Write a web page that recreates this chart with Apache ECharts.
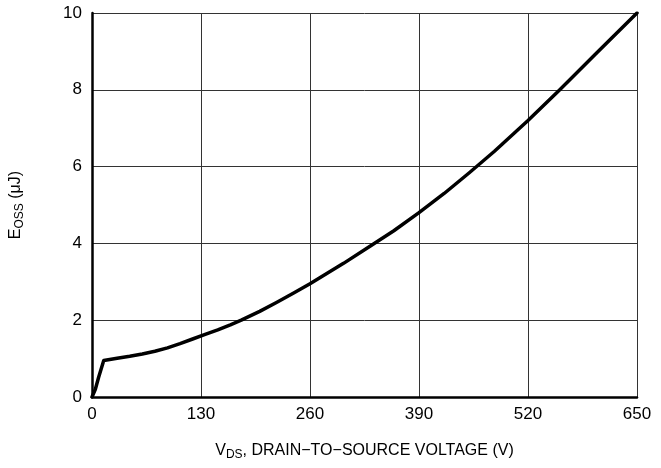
<!DOCTYPE html>
<html><head><meta charset="utf-8">
<script src="https://cdn.jsdelivr.net/npm/echarts@6/dist/echarts.min.js"></script>
<style>html,body{margin:0;padding:0;background:#fff}#c{width:661px;height:468px}</style>
</head><body><div id="c"></div>
<script>
const vds = [0, 4, 8, 14, 30, 45, 60, 75, 90, 105, 120, 135, 150, 165, 178, 200, 220, 240, 260, 300, 332, 360, 390, 420, 450, 480, 520, 557, 600, 650];
const eoss = [0, 0.2, 0.52, 0.95, 1.01, 1.06, 1.12, 1.19, 1.28, 1.39, 1.51, 1.63, 1.75, 1.88, 2.0, 2.23, 2.46, 2.70, 2.95, 3.48, 3.93, 4.33, 4.80, 5.30, 5.84, 6.40, 7.20, 7.98, 8.92, 10.0];
const xTicks = [0, 130, 260, 390, 520, 650];
const yTicks = [0, 2, 4, 6, 8, 10];
const font = 'Liberation Sans, Arial, Helvetica, sans-serif';
const chart = echarts.init(document.getElementById('c'), null, {renderer: 'canvas'});
chart.setOption({
  animation: false,
  grid: {left: 91, top: 13, right: 24, bottom: 71},
  xAxis: {
    type: 'value', min: xTicks[0], max: xTicks[xTicks.length - 1], interval: 130,
    axisLine: {show: true, onZero: false, lineStyle: {color: '#000', width: 2.5}},
    axisTick: {show: false},
    splitLine: {show: true, lineStyle: {color: '#333', width: 1}},
    axisLabel: {color: '#000', fontSize: 17, fontFamily: font, margin: 9},
    name: '{m|V}{s|DS}{m|, DRAIN\u2212TO\u2212SOURCE VOLTAGE (V)}',
    nameLocation: 'middle', nameGap: 44,
    nameTextStyle: {
      rich: {
        m: {fontSize: 16, fontFamily: font, color: '#000'},
        s: {fontSize: 12, fontFamily: font, color: '#000', padding: [8, 0, 0, 0]}
      }
    }
  },
  yAxis: {
    type: 'value', min: yTicks[0], max: yTicks[yTicks.length - 1], interval: 2,
    axisLine: {show: true, onZero: false, lineStyle: {color: '#000', width: 2.5}},
    axisTick: {show: false},
    splitLine: {show: true, lineStyle: {color: '#333', width: 1}},
    axisLabel: {color: '#000', fontSize: 17, fontFamily: font, margin: 10},
    name: '{m|E}{s|OSS}{m| (\u03bcJ)}',
    nameLocation: 'middle', nameGap: 66, nameRotate: 90,
    nameTextStyle: {
      rich: {
        m: {fontSize: 16, fontFamily: font, color: '#000'},
        s: {fontSize: 12, fontFamily: font, color: '#000', padding: [8, 0, 0, 0]}
      }
    }
  },
  series: [{
    type: 'line',
    data: vds.map((v, i) => [v, eoss[i]]),
    showSymbol: false,
    smooth: false,
    lineStyle: {color: '#000', width: 3.5, join: 'round', cap: 'round'},
    clip: true
  }]
});
</script></body></html>
